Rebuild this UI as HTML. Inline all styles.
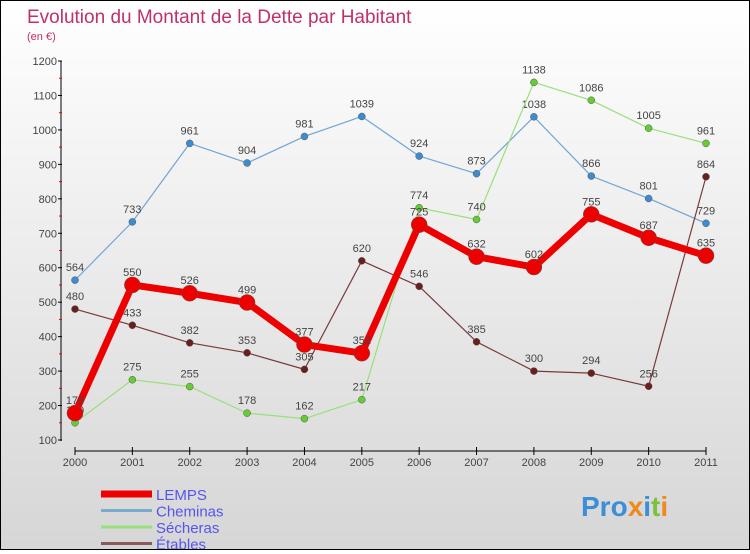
<!DOCTYPE html>
<html><head><meta charset="utf-8"><style>
html,body{margin:0;padding:0}
body{width:750px;height:550px;overflow:hidden;font-family:"Liberation Sans",sans-serif}
#c{position:absolute;left:0;top:0;width:748px;height:548px;border:1px solid #000;background:linear-gradient(#ffffff,#d6d6d6)}
</style></head><body>
<div id="c">
<svg id="s" width="748" height="548" xmlns="http://www.w3.org/2000/svg">
<text x="26" y="22" font-size="19" fill="#c0306a">Evolution du Montant de la Dette par Habitant</text>
<text x="26" y="39" font-size="11" fill="#c0306a">(en €)</text>
<g id="axes"></g><g id="series"></g><g id="legend"></g>
<text x="580" y="515" font-size="28" font-weight="bold" fill="#3a8fd8">Pro<tspan fill="#f08a1c">x</tspan><tspan fill="#3a8fd8">i</tspan><tspan fill="#7ac142">t</tspan><tspan fill="#f08a1c">i</tspan></text>
</svg></div>
<script>
const years=[2000,2001,2002,2003,2004,2005,2006,2007,2008,2009,2010,2011];
const yTicks=[100,200,300,400,500,600,700,800,900,1000,1100,1200];
const lemps=[178,550,526,499,377,352,725,632,602,755,687,635];
const cheminas=[564,733,961,904,981,1039,924,873,1038,866,801,729];
const secheras=[150,275,255,178,162,217,774,740,1138,1086,1005,961];
const etables=[480,433,382,353,305,620,546,385,300,294,256,864];
const NS="http://www.w3.org/2000/svg";
function X(i){return 74+i*(705-74)/11;}
function Y(v){return 439-(v-100)*(439-60)/1100;}
function el(t,a,p){const e=document.createElementNS(NS,t);for(const k in a)e.setAttribute(k,a[k]);p.appendChild(e);return e;}
const ax=document.getElementById('axes');
const yl=el('line',{x1:60,y1:60,x2:60,y2:440,stroke:'#000'},ax);


yTicks.forEach((v,i)=>{
 el('line',{x1:57,y1:Y(v),x2:61,y2:Y(v),stroke:'#000'},ax);
 if(i<yTicks.length-1)el('line',{x1:58,y1:Y(v+50),x2:61,y2:Y(v+50),stroke:'#e00'},ax);
 const t=el('text',{x:56,y:Y(v)+4,'font-size':11,'text-anchor':'end',fill:'#444'},ax);t.textContent=v;
 
 
});
const xl=el('line',{x1:74,y1:450,x2:705,y2:450,stroke:'#000'},ax);


years.forEach((y,i)=>{
 el('line',{x1:X(i),y1:446,x2:X(i),y2:454,stroke:'#000'},ax);
 const t=el('text',{x:X(i),y:465,'font-size':11,'text-anchor':'middle',fill:'#444'},ax);t.textContent=y;
 
 
});
const sg=document.getElementById('series');
function draw(data,color,w,r,name,dot){
 const g=el('g',{},sg);
 
 
 el('polyline',{points:data.map((v,i)=>X(i)+','+Y(v)).join(' '),fill:'none',stroke:color,'stroke-width':w,'stroke-linejoin':'round'},g);
 data.forEach((v,i)=>{
  const c=el('circle',{cx:X(i),cy:Y(v),r:r,fill:dot,stroke:'#555','stroke-width':0.5},g);
  
  
  const t=el('text',{x:X(i),y:Y(v)-9,'font-size':11,'text-anchor':'middle',fill:'#444'},g);t.textContent=v;
  
  
 });
}
draw(cheminas,'#6fa6d6',1.2,3.5,'cheminas','#3d8cd0');
draw(secheras,'#99e07a',1.2,3.5,'secheras','#66cc33');
draw(etables,'#7a3a3a',1.2,3.5,'etables','#6a1f1f');
draw(lemps,'#ee0000',7,8,'lemps','#ee0000');
const lg=document.getElementById('legend');
[['LEMPS','#ee0000',7],['Cheminas','#7aaad0',3],['Sécheras','#99e07a',3],['Étables','#8a5a5a',3]].forEach((d,i)=>{
 const y=493+i*16.5;
 const g=el('g',{},lg);
 
 
 el('line',{x1:100,y1:y,x2:151,y2:y,stroke:d[1],'stroke-width':d[2]},g);
 const t=el('text',{x:155,y:y+6,'font-size':15,fill:'#5555ee'},g);t.textContent=d[0];
});
</script>
</body></html>
